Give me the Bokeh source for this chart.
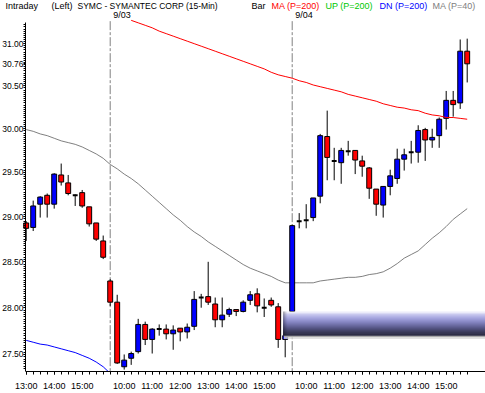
import numpy as np
from bokeh.plotting import figure
from bokeh.models import Range1d, FixedTicker, PrintfTickFormatter, Label
from bokeh.embed import file_html
from bokeh.resources import INLINE

FONT = "Liberation Sans"

# ---------------- data ----------------
def quarter_hours(h, m, n):
    out = []
    for _ in range(n):
        out.append(f"{h}:{m:02d}")
        m += 15
        if m == 60:
            h, m = h + 1, 0
    return out

times = quarter_hours(13, 0, 12) + quarter_hours(9, 30, 26) + quarter_hours(9, 30, 26)
day_labels = ["9/03", "9/04"]

opens = [28.93, 28.88, 29.14, 29.24, 29.14, 29.47, 29.38, 29.24, 29.27, 29.11, 28.93, 28.73,
         28.29, 28.06, 27.37, 27.46, 27.53, 27.82, 27.66, 27.77, 27.77, 27.72, 27.78, 27.74,
         27.80, 28.11, 28.12, 28.04, 27.87, 27.93, 27.98, 27.96, 28.08, 28.15, 28.00, 28.08,
         28.01, 27.66,
         27.96, 28.95, 28.96, 28.99, 29.23, 29.91, 29.63, 29.61, 29.74, 29.75, 29.63, 29.55,
         29.31, 29.13, 29.34, 29.43, 29.65, 29.73, 29.73, 29.99, 29.87, 29.92, 30.12, 30.33,
         30.30, 30.91]
highs = [28.95, 29.18, 29.23, 29.26, 29.49, 29.60, 29.47, 29.25, 29.30, 29.11, 28.93, 28.79,
         28.31, 28.14, 27.50, 27.53, 27.88, 27.85, 27.78, 27.82, 27.82, 27.81, 27.78, 27.83,
         28.18, 28.15, 28.50, 28.11, 28.11, 28.00, 27.98, 28.08, 28.18, 28.21, 28.10, 28.11,
         28.05, 27.77,
         28.91, 29.04, 29.14, 29.21, 29.94, 30.21, 29.78, 29.78, 29.86, 29.75, 29.69, 29.56,
         29.31, 29.34, 29.53, 29.77, 29.77, 29.86, 30.04, 30.01, 30.00, 30.13, 30.44, 30.44,
         31.05, 31.06]
lows = [28.73, 28.84, 28.99, 28.99, 29.09, 29.35, 29.24, 29.12, 29.10, 28.89, 28.73, 28.53,
        28.02, 27.40, 27.34, 27.39, 27.51, 27.60, 27.51, 27.70, 27.66, 27.55, 27.64, 27.67,
        27.76, 28.00, 28.03, 27.79, 27.79, 27.90, 27.91, 27.95, 28.03, 27.95, 27.90, 28.01,
        27.57, 27.47,
        27.93, 28.87, 28.87, 28.95, 29.15, 29.41, 29.41, 29.37, 29.69, 29.48, 29.45, 29.20,
        29.01, 28.99, 29.24, 29.37, 29.52, 29.60, 29.61, 29.63, 29.78, 29.78, 29.99, 30.14,
        30.23, 30.54]
closes = [28.87, 29.12, 29.22, 29.14, 29.48, 29.39, 29.26, 29.24, 29.12, 28.92, 28.75, 28.55,
          28.06, 27.41, 27.44, 27.51, 27.82, 27.66, 27.77, 27.77, 27.72, 27.76, 27.74, 27.79,
          28.09, 28.11, 28.06, 27.87, 27.92, 27.98, 27.96, 28.06, 28.14, 28.02, 28.00, 28.03,
          27.66, 27.70,
          28.90, 28.95, 28.96, 29.21, 29.92, 29.67, 29.63, 29.75, 29.74, 29.64, 29.57, 29.32,
          29.14, 29.34, 29.46, 29.65, 29.70, 29.73, 29.98, 29.87, 29.90, 30.11, 30.33, 30.28,
          30.91, 30.76]

NA = float("nan")
ma200 = [NA] * 15 + [
    31.28, 31.25, 31.22, 31.19, 31.15, 31.12, 31.09, 31.06, 31.03, 31.00, 30.97, 30.94,
    30.91, 30.88, 30.85, 30.82, 30.79, 30.76, 30.73, 30.70, 30.66, 30.63, 30.61, 30.59,
    30.56, 30.54, 30.51, 30.49, 30.47, 30.45, 30.43, 30.40, 30.38, 30.36, 30.34, 30.32,
    30.29, 30.27, 30.25, 30.24, 30.22, 30.21, 30.18, 30.16, 30.15, 30.13, 30.13, 30.12, 30.11]
ma40 = [29.99, 29.97, 29.94, 29.92, 29.89, 29.86, 29.84, 29.82, 29.79, 29.75,
        29.71, 29.66, 29.59, 29.54, 29.48, 29.43, 29.37, 29.30, 29.23, 29.16,
        29.09, 29.02, 28.96, 28.89, 28.83, 28.78, 28.72, 28.67, 28.62, 28.57,
        28.52, 28.47, 28.43, 28.40, 28.37, 28.34, 28.30, 28.27, 28.27, 28.27,
        28.27, 28.27, 28.29, 28.30, 28.31, 28.32, 28.33, 28.33, 28.34, 28.36,
        28.37, 28.39, 28.43, 28.48, 28.54, 28.58, 28.62, 28.69, 28.76, 28.82,
        28.89, 28.97, 29.03, 29.09]
dn_band = [27.65, 27.63, 27.61, 27.60, 27.58, 27.56, 27.54, 27.52, 27.49, 27.46,
           27.42, 27.37, 27.30, 27.23] + [NA] * 50

ytick_vals = [27.5, 28.0, 28.5, 29.0, 29.5, 30.0, 30.5, 30.76, 31.0]
last_box_top, last_box_bottom, last_box_left = 27.96, 27.70, 36.71

legend_items = [("Intraday", "black", "9px"), ("(Left)", "black", "9px"),
                ("SYMC - SYMANTEC CORP  (15-Min)", "black", "8.5px"), ("Bar", "black", "9px"),
                ("MA (P=200)", "#ff0000", "9px"), ("UP (P=200)", "#00c800", "9px"),
                ("DN (P=200)", "#0000ff", "9px"), ("MA (P=40)", "#808080", "9px")]
legend_px = [5, 51, 77, 251, 271, 325, 379, 432]   # left edge in page pixels

# ---------------- figure ----------------
W, H = 485, 393
BB = 22
X0, X1 = -3.671, 65.614      # frame spans whole width; bar spacing 7 px
AXIS_X = -0.1                # where the price axis sits
Y0, Y1 = 27.32, 31.52
Y_AXIS_TOP = 31.25           # price axis starts just below the header rows

p = figure(width=W, height=H, x_range=Range1d(X0, X1), y_range=Range1d(Y0, Y1),
           y_axis_type="log", output_backend="svg", toolbar_location=None,
           min_border_left=0, min_border_right=0, min_border_top=0, min_border_bottom=BB)
p.outline_line_color = None
p.grid.visible = False
p.background_fill_color = "white"
p.border_fill_color = "white"

idx = np.arange(len(times))
o, h, l, c = map(np.array, (opens, highs, lows, closes))
day_start = [i for i in range(1, len(times))
             if int(times[i].split(":")[0]) < int(times[i - 1].split(":")[0])]

# day separators
p.segment(x0=day_start, y0=[31.27] * len(day_start), x1=day_start, y1=[Y0] * len(day_start),
          line_color="#808080", line_width=1, line_dash="9 2 3 2")

# lower lines
p.line(idx, ma40, line_color="#808080", line_width=1)
p.line(idx, dn_band, line_color="#0000ff", line_width=1)

# candles
p.segment(x0=idx, y0=l, x1=idx, y1=h, line_color="black", line_width=1)
up = c > o + 0.005
dn = c < o - 0.005
dj = ~(up | dn)
p.vbar(x=idx[up], width=0.7, bottom=o[up], top=c[up], fill_color="#0000ff",
       line_color="black", line_width=1)
p.vbar(x=idx[dn], width=0.7, bottom=c[dn], top=o[dn], fill_color="#ff0000",
       line_color="black", line_width=1)
p.rect(x=idx[dj], y=o[dj], width=0.7, height=2, height_units="screen",
       fill_color="black", line_color=None)

p.line(idx, ma200, line_color="#ff0000", line_width=1)

# gradient box (stacked so that no seams show)
grad = ["#ececfa", "#c8c8ee", "#b4b4e6", "#a2a2dc", "#9292ce", "#8282be",
        "#7272aa", "#626296", "#525280", "#44446a", "#383856", "#2e2e46"]
n = len(grad)
edges = np.exp(np.linspace(np.log(last_box_top), np.log(last_box_bottom), n + 1))
p.quad(left=[last_box_left] * n, right=[X1 + 1] * n, top=edges[:-1],
       bottom=[last_box_bottom] * n, fill_color=grad, line_color=None)
cap_alpha = [0.35, 0.22, 0.12, 0.05]
p.quad(left=[last_box_left + k / 7 for k in range(4)],
       right=[last_box_left + (k + 1) / 7 for k in range(4)],
       top=[last_box_top] * 4, bottom=[last_box_bottom] * 4,
       fill_color="black", fill_alpha=cap_alpha, line_color=None)
sh = np.exp(np.linspace(np.log(last_box_bottom), np.log(last_box_bottom) - 0.0012, 3))
p.quad(left=[last_box_left + 0.1] * 2, right=[X1 + 1] * 2, top=sh[:-1], bottom=sh[1:],
       fill_color=["#a8a8a8", "#d8d8d8"], line_color=None)

# axes
p.yaxis.fixed_location = AXIS_X
p.yaxis.bounds = (Y0, Y_AXIS_TOP)
p.yaxis.ticker = FixedTicker(ticks=ytick_vals,
                             minor_ticks=list(np.round(np.arange(27.35, 31.25, 0.025), 3)))
p.yaxis.formatter = PrintfTickFormatter(format="%.2f")
hour_idx = [i for i, t in enumerate(times) if t.endswith(":00")]
p.xaxis.ticker = FixedTicker(ticks=hour_idx, minor_ticks=list(idx))
p.xaxis.major_label_overrides = {int(i): times[i] for i in hour_idx}
p.xaxis.bounds = (AXIS_X, X1)
for ax in (p.xaxis[0], p.yaxis[0]):
    ax.axis_line_color = "black"
    ax.major_tick_line_color = "black"
    ax.minor_tick_line_color = "black"
    ax.major_tick_in = 0
    ax.minor_tick_in = 0
    ax.major_label_text_font = FONT
    ax.major_label_text_color = "black"
p.xaxis.major_label_text_font_size = "9px"
p.yaxis.major_label_text_font_size = "8.5px"
p.yaxis.major_tick_out = 2
p.yaxis.minor_tick_out = 2
p.yaxis.major_label_standoff = 0
p.xaxis.major_tick_out = 3
p.xaxis.minor_tick_out = 3
p.xaxis.major_label_standoff = 6

# header texts
for (txt, col, fs), px in zip(legend_items, legend_px):
    p.add_layout(Label(x=X0, y=Y1, x_offset=px, text=txt, text_color=col,
                       text_font=FONT, text_font_size=fs, text_baseline="top"))
for d, lab in zip(day_start, day_labels):
    p.add_layout(Label(x=d, y=31.40, x_offset=3, text=lab, text_color="black",
                       text_font=FONT, text_font_size="9px", text_baseline="top"))

open("out.html", "w").write(file_html(p, INLINE))
